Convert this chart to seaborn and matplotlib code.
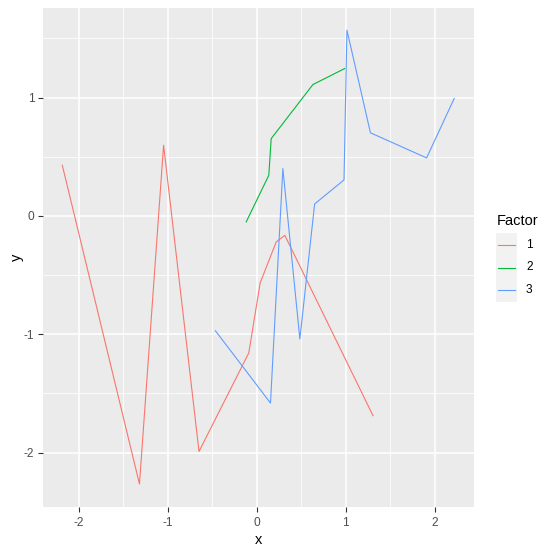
import numpy as np
import pandas as pd
import matplotlib
matplotlib.use("Agg")
import matplotlib.pyplot as plt
import seaborn as sns
from matplotlib.patches import Rectangle
from matplotlib.lines import Line2D

# ---- data ----
x1 = [-2.185, -1.318, -1.047, -0.649, -0.090, 0.038, 0.218, 0.315, 1.306]
y1 = [0.428, -2.265, 0.597, -1.990, -1.158, -0.566, -0.220, -0.164, -1.688]
x2 = [-0.119, 0.135, 0.162, 0.631, 0.988]
y2 = [-0.051, 0.343, 0.653, 1.110, 1.245]
x3 = [-0.465, 0.154, 0.293, 0.484, 0.650, 0.980, 1.013, 1.277, 1.908, 2.218]
y3 = [-0.970, -1.581, 0.400, -1.040, 0.101, 0.304, 1.569, 0.702, 0.490, 0.992]
factors = ["1", "2", "3"]
colors = ["#F8766D", "#00BA38", "#619CFF"]
xticks = [-2, -1, 0, 1, 2]
yticks = [-2, -1, 0, 1]

df = pd.concat([
    pd.DataFrame({"x": x1, "y": y1, "Factor": factors[0]}),
    pd.DataFrame({"x": x2, "y": y2, "Factor": factors[1]}),
    pd.DataFrame({"x": x3, "y": y3, "Factor": factors[2]}),
], ignore_index=True)

W, H = 553, 552
fig = plt.figure(figsize=(W / 100, H / 100), dpi=100)
plt.rcParams["font.family"] = ["Liberation Sans", "DejaVu Sans"]

L, R, T, B = 42.7, 473.8, 7.5, 506.7
ax = fig.add_axes([L / W, 1 - B / H, (R - L) / W, (B - T) / H])
ax.set_facecolor("#EBEBEB")

# limits with ggplot 5% expansion
allx = np.array(x1 + x2 + x3)
ally = np.array(y1 + y2 + y3)
dx = (allx.max() - allx.min()) * 0.05
dy = (ally.max() - ally.min()) * 0.05
ax.set_xlim(allx.min() - dx, allx.max() + dx)
ax.set_ylim(ally.min() - dy, ally.max() + dy)

# grid
for v in [-2.5, -1.5, -0.5, 0.5, 1.5, 2.5]:
    ax.axvline(v, color="white", lw=0.55, zorder=0.5)
    ax.axhline(v, color="white", lw=0.55, zorder=0.5)
for v in xticks:
    ax.axvline(v, color="white", lw=1.1, zorder=0.6)
for v in yticks:
    ax.axhline(v, color="white", lw=1.1, zorder=0.6)

sns.lineplot(data=df, x="x", y="y", hue="Factor", palette=colors,
             hue_order=factors, estimator=None, sort=True, lw=0.8, ax=ax,
             legend=False, zorder=2)

for s in ax.spines.values():
    s.set_visible(False)
ax.set_xticks(xticks)
ax.set_yticks(yticks)
ax.set_xticklabels([str(t) for t in xticks])
ax.set_yticklabels([str(t) for t in yticks])
ax.tick_params(axis="both", length=3.6, width=0.8, color="#333333",
               labelcolor="#4D4D4D", labelsize=8.6)
ax.tick_params(axis="x", pad=4)
ax.tick_params(axis="y", pad=2.5)
ax.set_xlabel("x", fontsize=10.5, color="black", labelpad=3)
ax.set_ylabel("y", fontsize=10.5, color="black", labelpad=-0.5)

# legend (ggplot style)
def fx(px):
    return px / W

def fy(py):
    return 1 - py / H

fig.text(fx(497), fy(221), "Factor", fontsize=10.5, va="center", ha="left")
key_top, key_h = 233.3, 22.8
for i, (f, c) in enumerate(zip(factors, colors)):
    yt = key_top + i * key_h
    fig.patches.append(Rectangle((fx(496), fy(yt + key_h)), (517 - 496) / W, key_h / H,
                                 transform=fig.transFigure, facecolor="#F2F2F2",
                                 edgecolor="none"))
    yc = yt + key_h / 2
    fig.lines.append(Line2D([fx(498), fx(515)], [fy(yc), fy(yc)], color=c, lw=0.8,
                            transform=fig.transFigure))
    fig.text(fx(526), fy(yc), f, fontsize=8.6, va="center", ha="left", color="black")

fig.savefig("out.png", dpi=100)
